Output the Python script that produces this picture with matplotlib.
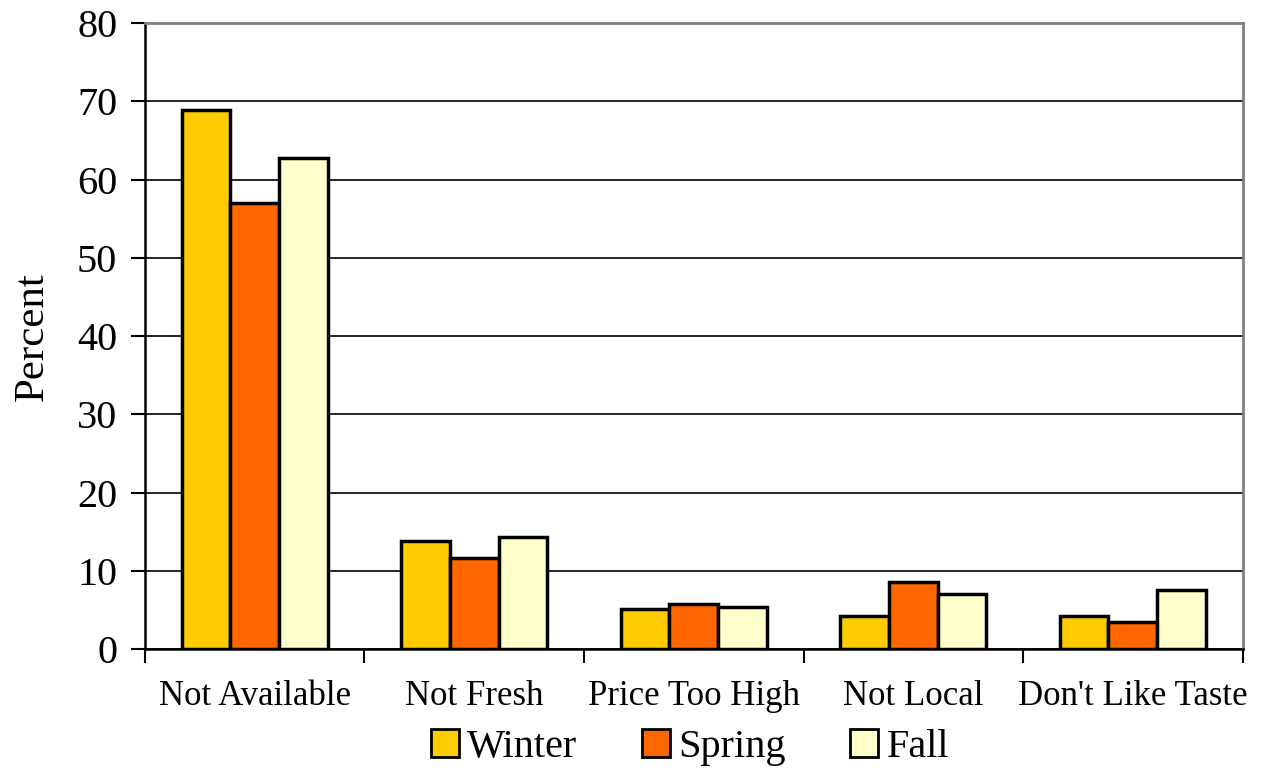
import numpy as np
import matplotlib
matplotlib.use('Agg')
import matplotlib.pyplot as plt
from matplotlib.patches import Patch

categories = ['Not Available', 'Not Fresh', 'Price Too High', 'Not Local', "Don't Like Taste"]
series_names = ['Winter', 'Spring', 'Fall']
winter = [68.9, 13.8, 5.1, 4.2, 4.3]
spring = [57.0, 11.7, 5.8, 8.6, 3.5]
fall = [62.8, 14.3, 5.4, 7.1, 7.5]
colors = ['#FFCC00', '#FF6600', '#FFFFCC']
y_ticks = [0, 10, 20, 30, 40, 50, 60, 70, 80]

plt.rcParams['font.family'] = ['Liberation Serif', 'DejaVu Serif']

fig = plt.figure(figsize=(12.66, 7.71), dpi=100)
ax = fig.add_axes([0.1145, 0.158, 0.867, 0.812])

x = np.arange(len(categories))
width = 0.222
for i, (vals, col) in enumerate(zip([winter, spring, fall], colors)):
    ax.bar(x + (i - 1) * width, vals, width, color=col, edgecolor='black',
           linewidth=2.5, zorder=3)

ax.set_xlim(-0.5, len(categories) - 0.5)
ax.set_ylim(0, 80)
ax.set_yticks(y_ticks)
ax.tick_params(axis='y', labelsize=29, length=10, width=1.5, direction='out', pad=10)
ax.yaxis.grid(True, color='black', linewidth=1.2, zorder=0)

# category labels centred, tick marks on boundaries
ax.set_xticks(np.arange(len(categories) + 1) - 0.5)
ax.set_xticklabels([])
ax.set_xticks(x, minor=True)
ax.set_xticklabels(categories, minor=True, fontsize=25)
ax.tick_params(axis='x', which='major', length=10, width=1.5, direction='out')
ax.tick_params(axis='x', which='minor', length=0, pad=22)

ax.set_ylabel('Percent', fontsize=31, labelpad=18)

for side in ['left', 'bottom']:
    ax.spines[side].set_color('black')
    ax.spines[side].set_linewidth(1.8)
for side in ['top', 'right']:
    ax.spines[side].set_color('#808080')
    ax.spines[side].set_linewidth(2)

handles = [Patch(facecolor=c, edgecolor='black', linewidth=2) for c in colors]
fig.legend(handles, series_names, loc='center', bbox_to_anchor=(0.545, 0.03),
           ncol=3, frameon=False, fontsize=29, handlelength=0.7, handleheight=0.7,
           handletextpad=0.2, columnspacing=1.6, borderpad=0.1)

fig.savefig('out.png', dpi=100)
